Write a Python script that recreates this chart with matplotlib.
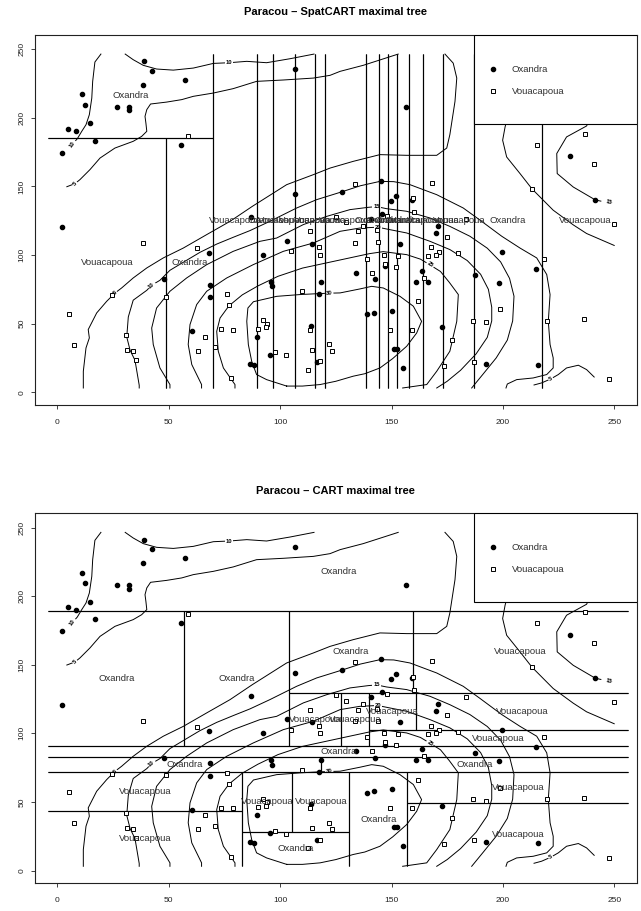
import matplotlib
matplotlib.use('Agg')
import matplotlib.pyplot as plt
from matplotlib.patches import Rectangle
from matplotlib.lines import Line2D

plt.rcParams['font.family'] = ['Liberation Sans', 'DejaVu Sans']

# ---------------- data: tree positions ----------------
oxandra_x = [38.8, 42.4, 38.4, 57.3, 10.9, 12.3, 26.9, 32.0, 32.0, 14.5, 4.9, 8.3, 17.0, 1.9, 55.3,
             106.8, 106.8, 87.0, 1.9, 156.5, 230.1, 241.5, 145.4, 127.9, 152.0, 149.9, 159.0, 145.5,
             171.0, 140.6, 170.0, 153.9, 199.5, 215.0, 147.1, 163.5, 134.0, 187.6, 161.0, 166.5, 198.1,
             142.6, 118.4, 139.0, 142.1, 150.1, 172.7, 151.0, 152.6, 192.6, 215.6, 155.0, 67.9, 92.4,
             102.9, 114.4, 48.0, 68.5, 68.5, 96.0, 96.5, 117.4, 60.3, 89.4, 95.5, 86.4, 88.4, 113.9, 116.7]
oxandra_y = [241.2, 234.2, 224.3, 227.6, 217.2, 209.7, 208.2, 208.2, 205.5, 196.1, 192.2, 190.2, 183.2, 174.7, 180.2,
             235.6, 144.3, 127.5, 120.7, 208.2, 172.0, 140.2, 154.3, 146.1, 143.3, 139.3, 140.3, 130.0,
             121.4, 126.5, 116.4, 108.3, 102.2, 89.8, 91.8, 88.4, 86.9, 85.5, 80.4, 80.4, 79.9,
             82.3, 80.4, 56.8, 57.8, 59.2, 47.4, 31.6, 31.6, 20.9, 19.9, 18.0, 101.8, 100.3,
             110.2, 108.3, 82.3, 78.5, 69.2, 80.4, 77.2, 71.9, 44.4, 40.3, 27.2, 20.9, 20.2, 48.3, 22.4]

vouacapoua_x = [58.5, 215.5, 237.0, 241.0, 213.1, 250.0, 168.0, 133.4, 159.5, 160.1, 148.1, 183.4, 124.9,
                129.4, 137.3, 135.1, 143.6, 143.8, 133.4, 175.0, 167.6, 171.4, 169.9, 166.4, 179.8, 218.6,
                138.8, 146.5, 153.0, 147.1, 152.1, 141.1, 164.6, 162.0, 186.6, 192.6, 198.6, 219.9, 236.6,
                149.4, 159.0, 177.2, 122.1, 123.1, 118.1, 173.6, 187.2, 247.5, 38.4, 62.5, 105.0, 113.4,
                117.4, 117.9, 48.7, 24.5, 109.9, 76.0, 76.9, 5.3, 73.4, 78.9, 66.4, 30.8, 31.4, 34.0,
                35.4, 7.4, 63.0, 70.9, 77.9, 92.4, 93.9, 93.5, 89.9, 97.5, 102.5, 113.4, 114.4, 112.6]
vouacapoua_y = [187.1, 180.1, 188.6, 166.2, 148.3, 122.5, 152.4, 151.7, 141.4, 131.3, 128.8, 126.6, 128.1,
                123.9, 121.4, 117.3, 118.0, 109.3, 108.8, 113.4, 105.6, 102.5, 100.3, 99.6, 101.3, 97.4,
                97.4, 100.3, 99.3, 93.5, 91.3, 87.2, 83.6, 66.3, 52.2, 51.0, 60.5, 52.0, 53.2,
                45.4, 45.4, 38.1, 34.8, 30.4, 22.5, 19.4, 22.4, 9.5, 108.8, 104.9, 102.7, 117.3,
                105.6, 100.3, 69.7, 70.7, 73.6, 71.4, 63.4, 57.3, 45.9, 45.4, 40.5, 42.0, 30.8, 30.4,
                23.5, 34.5, 30.4, 32.8, 10.2, 52.5, 50.1, 47.2, 46.2, 29.1, 27.0, 45.7, 30.8, 16.3]

species = ['Oxandra', 'Vouacapoua']
ticks = [0, 50, 100, 150, 200, 250]
titles = ['Paracou \u2013 SpatCART maximal tree', 'Paracou \u2013 CART maximal tree']

# ---------------- data: tree partitions (leaf rectangles) ----------------
domain = (-4.1, 256.3, 3.1, 246.8)

spatcart_leaves = [
    (-4.1, 69.7, 185.4, 246.8, 'Oxandra'),
    (-4.1, 48.6, 3.1, 185.4, 'Vouacapoua'),
    (48.6, 69.7, 3.1, 185.4, 'Oxandra'),
    (69.7, 89.7, 3.1, 246.8, 'Vouacapoua'),
    (89.7, 96.9, 3.1, 246.8, 'Oxandra'),
    (96.9, 106.8, 3.1, 246.8, 'Vouacapoua'),
    (106.8, 115.6, 3.1, 246.8, 'Vouacapoua'),
    (115.6, 120.0, 3.1, 246.8, 'Vouacapoua'),
    (120.0, 138.4, 3.1, 246.8, 'Vouacapoua'),
    (138.4, 144.5, 3.1, 246.8, 'Oxandra'),
    (144.5, 148.5, 3.1, 246.8, 'Oxandra'),
    (148.5, 152.6, 3.1, 246.8, 'Oxandra'),
    (152.6, 157.8, 3.1, 246.8, 'Oxandra'),
    (157.8, 164.0, 3.1, 246.8, 'Vouacapoua'),
    (164.0, 173.2, 3.1, 246.8, 'Vouacapoua'),
    (173.2, 187.2, 3.1, 246.8, 'Vouacapoua'),
    (187.2, 217.4, 3.1, 246.8, 'Oxandra'),
    (217.4, 256.3, 3.1, 246.8, 'Vouacapoua'),
]

cart_leaves = [
    (-4.1, 256.3, 189.4, 246.8, 'Oxandra'),
    (-4.1, 56.9, 90.6, 189.4, 'Oxandra'),
    (56.9, 104.1, 90.6, 189.4, 'Oxandra'),
    (104.1, 159.6, 129.3, 189.4, 'Oxandra'),
    (159.6, 256.3, 129.3, 189.4, 'Vouacapoua'),
    (160.8, 256.3, 102.2, 129.3, 'Vouacapoua'),
    (140.0, 160.8, 102.2, 129.3, 'Vouacapoua'),
    (140.0, 256.3, 90.6, 102.2, 'Vouacapoua'),
    (104.1, 127.2, 90.6, 129.3, 'Vouacapoua'),
    (127.2, 140.0, 90.6, 129.3, 'Vouacapoua'),
    (-4.1, 256.3, 82.8, 90.6, 'Oxandra'),
    (-4.1, 118.2, 71.8, 82.8, 'Oxandra'),
    (118.2, 256.3, 71.8, 82.8, 'Oxandra'),
    (-4.1, 82.7, 43.2, 71.8, 'Vouacapoua'),
    (-4.1, 82.7, 3.1, 43.2, 'Vouacapoua'),
    (82.7, 105.5, 28.4, 71.8, 'Vouacapoua'),
    (105.5, 131.0, 28.4, 71.8, 'Vouacapoua'),
    (82.7, 131.0, 3.1, 28.4, 'Oxandra'),
    (131.0, 157.1, 3.1, 71.8, 'Oxandra'),
    (157.1, 256.3, 48.9, 71.8, 'Vouacapoua'),
    (157.1, 256.3, 3.1, 48.9, 'Vouacapoua'),
]

# ---------------- data: intensity contour lines (traced) ----------------
c10_a = [(19.5, 246.5), (16.8, 240.7), (15.8, 226.6), (15.4, 214.4), (14.3, 202.3), (12.8, 195.0),
         (10.9, 190.2), (8.9, 184.8), (6.8, 180.9)]
c10_b = [(30.4, 246.5), (34.0, 242.4), (38.5, 238.3), (44.5, 235.6), (52.0, 234.8), (61.0, 236.3),
         (70.0, 239.7), (77.1, 240.2), (85.0, 241.2), (93.9, 240.2), (104.4, 243.1), (115.2, 246.5)]
c5_a = [(4.2, 149.8), (7.9, 152.1), (10.1, 155.0), (14.6, 162.3), (19.1, 170.7), (25.8, 178.0),
        (34.0, 182.9), (37.8, 186.5), (40.1, 190.2), (39.7, 196.2), (39.3, 201.1), (40.1, 206.0),
        (41.8, 210.1), (49.0, 211.5), (55.8, 213.3), (61.0, 215.7), (70.0, 218.1), (78.9, 221.3),
        (89.4, 226.6), (101.4, 227.6), (114.9, 229.0), (122.4, 231.0), (126.9, 233.9), (137.3, 238.3),
        (153.0, 246.5)]
c5_b = [(11.6, 3.1), (11.6, 15.3), (12.8, 32.3), (14.3, 39.6), (13.8, 45.7), (17.6, 57.8), (22.1, 66.3),
        (25.8, 72.3), (28.8, 76.0), (34.0, 83.3), (40.1, 90.6), (47.5, 97.9), (56.5, 105.1),
        (67.0, 114.9), (77.5, 124.6), (87.5, 135.5), (102.9, 151.3), (114.9, 158.6), (122.4, 163.4),
        (132.8, 168.3), (144.8, 173.2), (156.8, 172.7), (170.3, 172.7), (174.8, 178.0), (176.2, 187.8),
        (178.5, 212.0), (179.3, 229.0), (177.7, 239.9), (174.0, 246.5)]
c10_c = [(36.7, 3.1), (36.7, 5.1), (34.8, 23.3), (32.6, 30.6), (31.1, 40.3), (31.8, 54.9), (34.0, 67.1),
         (40.1, 74.3), (42.3, 78.0), (46.0, 81.6), (50.5, 88.9), (58.0, 96.2), (64.0, 102.0),
         (71.5, 108.0), (79.0, 113.0), (86.4, 117.8), (95.4, 124.6), (107.4, 134.3), (116.4, 140.4),
         (127.9, 146.2), (136.0, 150.5), (144.8, 153.7), (151.0, 153.5), (158.3, 151.3), (170.3, 144.0),
         (182.2, 134.3), (189.7, 125.5), (199.5, 113.7), (207.7, 105.1), (215.2, 97.9), (219.7, 85.8),
         (221.2, 71.2), (220.4, 51.7), (221.2, 34.8), (222.6, 25.0), (222.6, 17.7), (219.7, 12.9),
         (213.6, 10.4), (206.2, 9.2), (202.0, 6.0), (201.4, 3.1)]
c15_a = [(50.5, 3.1), (50.5, 5.6), (46.0, 17.7), (43.0, 34.8), (42.3, 46.8), (44.5, 61.4), (50.5, 73.6),
         (58.0, 83.3), (67.0, 93.0), (78.9, 102.7), (90.9, 110.0), (98.4, 112.4), (104.4, 117.3),
         (110.4, 122.2), (120.9, 128.2), (131.3, 133.1), (139.6, 134.8), (143.3, 135.3), (147.8, 133.8),
         (156.8, 131.9), (167.3, 127.0), (176.2, 120.9), (185.2, 113.7), (193.0, 105.0), (199.0, 95.0),
         (203.0, 83.0), (205.0, 70.0), (204.4, 52.0), (202.0, 38.0), (197.0, 25.0), (191.0, 13.0),
         (186.0, 3.1)]
c20 = [(64.7, 3.1), (64.7, 5.6), (60.3, 20.2), (58.7, 34.8), (59.5, 49.3), (62.5, 63.9), (67.0, 73.6),
       (76.0, 83.3), (87.9, 93.0), (101.4, 102.7), (114.9, 108.8), (126.9, 117.3), (135.8, 119.7),
       (143.8, 120.3), (149.3, 118.5), (156.8, 116.1), (167.3, 110.0), (176.2, 104.0), (184.0, 96.0),
       (190.0, 86.0), (193.5, 75.0), (195.0, 62.0), (195.0, 52.0), (193.0, 40.0), (188.0, 28.0),
       (181.0, 16.0), (175.0, 8.0), (170.3, 3.1)]
c25 = [(79.7, 3.1), (79.7, 5.6), (74.5, 17.7), (72.2, 29.9), (71.5, 44.4), (73.0, 54.1), (77.0, 63.0),
       (83.0, 71.0), (90.0, 77.5), (99.0, 84.5), (110.0, 90.5), (120.0, 94.0), (130.0, 97.5),
       (140.0, 101.0), (146.3, 102.5), (156.8, 100.3), (163.0, 97.0), (167.3, 92.8), (172.0, 88.0),
       (176.0, 80.0), (180.0, 71.2), (179.3, 51.7), (176.2, 29.9), (170.3, 15.3), (165.8, 5.6),
       (155.0, 3.1)]
c30 = [(102.9, 4.5), (93.9, 9.2), (89.4, 12.9), (87.2, 22.6), (85.7, 34.8), (85.0, 51.7), (85.5, 61.4),
       (88.0, 66.0), (98.4, 69.9), (108.9, 71.2), (117.4, 71.9), (122.0, 72.2), (126.9, 72.4),
       (135.8, 75.3), (141.1, 77.2), (146.3, 76.0), (153.8, 69.9), (159.8, 62.7), (163.5, 51.7),
       (161.3, 43.2), (156.8, 33.5), (150.5, 24.5), (144.8, 17.7), (138.0, 13.5), (132.8, 11.7),
       (125.0, 8.0), (117.9, 5.6), (110.0, 4.5), (102.9, 4.5)]
c_right_a = [(203.0, 206.0), (201.0, 193.4), (199.9, 183.7), (201.7, 171.5), (207.7, 159.4),
             (213.1, 148.2), (222.6, 132.7), (231.6, 122.0), (237.6, 115.7), (250.0, 107.0)]
c15_b = [(241.0, 206.0), (237.6, 194.1), (228.6, 186.1), (224.2, 174.0), (224.4, 159.4),
         (231.6, 149.6), (241.5, 140.2), (244.0, 139.3)]
c5_c = [(214.0, 5.3), (217.4, 6.8), (221.5, 9.7), (224.9, 12.9), (228.6, 17.7), (233.9, 19.7),
        (237.6, 16.5), (241.0, 11.1)]

contour_lines = [c10_a, c10_b, c5_a, c5_b, c10_c, c15_a, c20, c25, c30, c_right_a, c15_b, c5_c]

# contour labels: text, x, y, rotation (deg)
contour_labels = [
    ('10', 6.8, 180.9, 55), ('10', 77.1, 240.2, 0), ('5', 7.9, 152.1, 43),
    ('5', 25.8, 72.3, 40), ('10', 42.3, 78.0, 40), ('15', 143.3, 135.3, 0),
    ('20', 143.8, 120.3, 0), ('25', 167.3, 92.8, -32), ('30', 122.0, 72.2, 5),
    ('15', 247.5, 138.3, -10), ('5', 221.5, 9.7, 27),
]

# ---------------- figure ----------------
W, H = 641, 911
fig = plt.figure(figsize=(W / 100, H / 100), dpi=100)
ax_left = 35 / W
ax_w = (636.7 - 35) / W
ax_h = 370 / H
axes_bottoms = [1 - 405 / H, 1 - 883.3 / H]
panel_leaves = [spatcart_leaves, cart_leaves]


def draw_partition(ax, leaves):
    xmin, xmax, ymin, ymax = domain
    for (x0, x1, y0, y1, lab) in leaves:
        if y0 > ymin:
            ax.plot([x0, x1], [y0, y0], color='black', lw=0.8, zorder=4, solid_capstyle='butt')
        if y1 < ymax:
            ax.plot([x0, x1], [y1, y1], color='black', lw=0.8, zorder=4, solid_capstyle='butt')
        if x0 > xmin:
            ax.plot([x0, x0], [y0, y1], color='black', lw=0.8, zorder=4, solid_capstyle='butt')
        if x1 < xmax:
            ax.plot([x1, x1], [y0, y1], color='black', lw=0.8, zorder=4, solid_capstyle='butt')
    for (x0, x1, y0, y1, lab) in leaves:
        ax.text((x0 + x1) / 2, (y0 + y1) / 2, lab, ha='center', va='center',
                fontsize=6.8, color='#303030', zorder=6)


for k in range(2):
    ax = fig.add_axes([ax_left, axes_bottoms[k], ax_w, ax_h])
    ax.set_xlim(-10.1, 260.1)
    ax.set_ylim(-9.3, 260.4)

    for line in contour_lines:
        xs = [p[0] for p in line]
        ys = [p[1] for p in line]
        ax.plot(xs, ys, color='black', lw=0.7, zorder=2)
    for (txt, lx, ly, rot) in contour_labels:
        ax.text(lx, ly, txt, fontsize=4.2, fontweight='bold', ha='center', va='center',
                rotation=rot, rotation_mode='anchor', zorder=3,
                bbox=dict(boxstyle='square,pad=0.15', fc='white', ec='none'))

    draw_partition(ax, panel_leaves[k])

    ax.plot(oxandra_x, oxandra_y, 'o', color='black', markersize=3.0, zorder=5, linestyle='none')
    ax.plot(vouacapoua_x, vouacapoua_y, 's', mfc='white', mec='black', mew=0.7,
            markersize=3.3, zorder=5, linestyle='none')

    ax.set_xticks(ticks)
    ax.set_yticks(ticks)
    ax.set_xticklabels([str(t) for t in ticks])
    ax.set_yticklabels([str(t) for t in ticks])
    ax.tick_params(direction='out', length=3, width=0.6, labelsize=6, colors='#222222')
    ax.tick_params(axis='x', pad=7)
    ax.tick_params(axis='y', pad=4)
    for lab in ax.get_yticklabels():
        lab.set_rotation(90)
        lab.set_va('center')
        lab.set_ha('right')
    for sp in ax.spines.values():
        sp.set_linewidth(0.8)
        sp.set_color('#222222')

    ax.text(0.5, 1 + 22.7 / 370, titles[k], transform=ax.transAxes, ha='center', va='center',
            fontsize=8, fontweight='bold')

    # legend box (white, covers lines beneath)
    ax.add_patch(Rectangle((0.730, 0.759), 0.270, 0.241, transform=ax.transAxes,
                           facecolor='white', edgecolor='black', lw=0.8, zorder=10))
    handles = [Line2D([], [], marker='o', color='black', linestyle='none', markersize=3.0),
               Line2D([], [], marker='s', mfc='white', mec='black', mew=0.7,
                      linestyle='none', markersize=3.3)]
    leg = ax.legend(handles, species, loc='upper left', bbox_to_anchor=(0.753, 0.919),
                    frameon=False, fontsize=6.8, handlelength=1.0, handletextpad=1.5,
                    labelspacing=1.4, borderpad=0, borderaxespad=0)
    leg.set_zorder(11)
    for t in leg.get_texts():
        t.set_color('#303030')

fig.savefig('out.png', dpi=100)
